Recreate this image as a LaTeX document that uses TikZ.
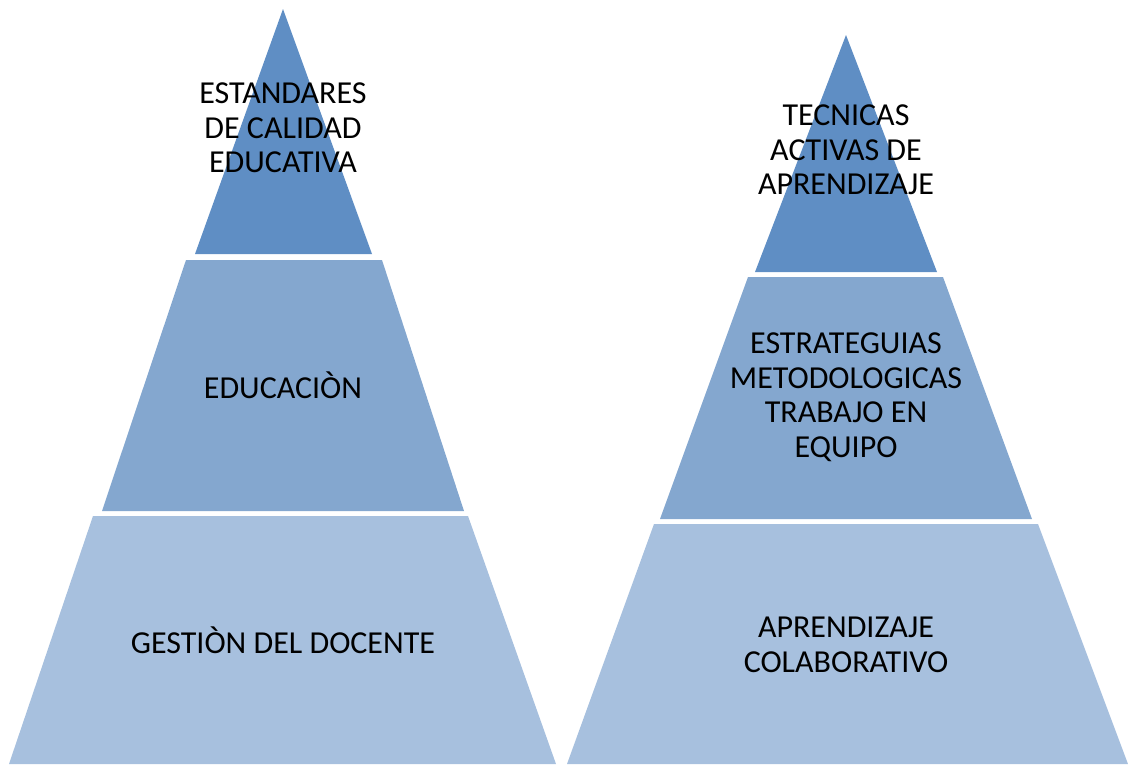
\documentclass[tikz,border=0pt]{standalone}
\usepackage{fontspec}
\setmainfont{Carlito}
\definecolor{capa1}{RGB}{95,142,196}
\definecolor{capa2}{RGB}{132,167,207}
\definecolor{capa3}{RGB}{167,192,222}
\tikzset{etiqueta/.style={align=center,font=\fontsize{32}{34.5}\selectfont,inner sep=0pt}}
\begin{document}
\begin{tikzpicture}[x=1pt,y=-1pt]
    \useasboundingbox (0,0) rectangle (1128,764);
    \fill[capa1] (283,9) -- (372,254) -- (195,254) -- cycle;
    \fill[capa2] (186,260) -- (382,260) -- (464,511) -- (102,511) -- cycle;
    \fill[capa3] (93,516) -- (468,516) -- (556,764) -- (9,764) -- cycle;
    \fill[capa1] (846,35) -- (937,272) -- (755,272) -- cycle;
    \fill[capa2] (748,277) -- (943,277) -- (1032,519) -- (660,519) -- cycle;
    \fill[capa3] (654,524) -- (1038,524) -- (1128,764) -- (567,764) -- cycle;
    \node[etiqueta] (estandares) at (283,128) {ESTANDARES\\DE CALIDAD\\EDUCATIVA};
    \node[etiqueta] (educacion) at (283,385) {EDUCACIÒN};
    \node[etiqueta] (gestion) at (283,640) {GESTIÒN DEL DOCENTE};
    \node[etiqueta] (tecnicas) at (846,150) {TECNICAS\\ACTIVAS DE\\APRENDIZAJE};
    \node[etiqueta] (estrategias) at (846,397) {ESTRATEGUIAS\\METODOLOGICAS\\TRABAJO EN\\EQUIPO};
    \node[etiqueta] (colaborativo) at (846,645) {APRENDIZAJE\\COLABORATIVO};
\end{tikzpicture}
\end{document}
